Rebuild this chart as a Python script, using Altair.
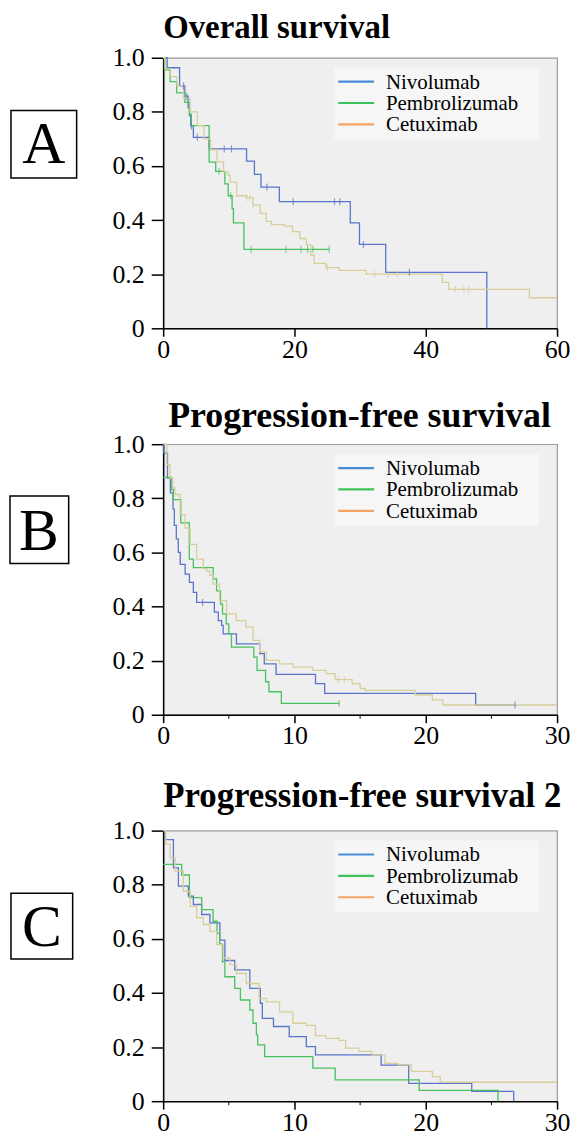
import altair as alt
import pandas as pd

SERIES = ["Nivolumab", "Pembrolizumab", "Cetuximab"]
CURVE_COLORS = ["#5b74cc", "#49c160", "#d7cf9b"]
LEGEND_COLORS = ["#4a8ad8", "#3cc45a", "#f2a366"]

PANEL_LABELS = ["A", "B", "C"]
PANEL_TITLES = ["Overall survival", "Progression-free survival", "Progression-free survival 2"]

Y_TICKS = [0, 0.2, 0.4, 0.6, 0.8, 1.0]
OS_X_TICKS = [0, 20, 40, 60]
PFS_X_TICKS = [0, 10, 20, 30]
PFS_MINOR_TICKS = [5, 15, 25]

# ---------------- Overall survival ----------------
os_nivo_t = [0, 0.6, 2.5, 3.3, 3.8, 4.0, 4.2, 4.6, 7.0, 12.7, 13.9, 14.9, 17.7, 28.5, 29.9, 33.9, 49.3]
os_nivo_s = [1.0, 0.963, 0.896, 0.858, 0.816, 0.786, 0.748, 0.706, 0.663, 0.618, 0.569, 0.522, 0.468, 0.390, 0.310, 0.207, 0.0]
os_nivo_end = 49.3
os_nivo_cens = [3.1, 3.6, 4.3, 5.2, 9.3, 10.4, 15.8, 19.8, 26.1, 26.9, 30.5, 37.5]

os_pemb_t = [0, 0.2, 1.05, 2.05, 3.3, 4.0, 4.3, 7.0, 8.0, 9.4, 9.9, 10.5, 10.7, 12.3]
os_pemb_s = [1.0, 0.955, 0.912, 0.870, 0.835, 0.792, 0.749, 0.614, 0.580, 0.534, 0.490, 0.442, 0.390, 0.292]
os_pemb_end = 25.3
os_pemb_cens = [8.5, 10.3, 13.4, 18.7, 21.0, 22.0, 22.8, 25.3]

os_cetu_t = [0, 0.3, 1.1, 2.1, 3.1, 4.1, 5.2, 6.2, 7.2, 8.2, 9.2, 9.9, 10.2, 11.2, 12.7, 13.7, 14.8, 15.7,
             16.5, 18.5, 19.7, 20.8, 21.8, 22.5, 23.0, 24.8, 26.8, 30.9, 42.5, 43.5, 55.8]
os_cetu_s = [1.0, 0.96, 0.93, 0.896, 0.85, 0.80, 0.75, 0.70, 0.66, 0.615, 0.577, 0.565, 0.54, 0.49, 0.483, 0.455,
             0.425, 0.395, 0.383, 0.378, 0.357, 0.332, 0.308, 0.27, 0.24, 0.224, 0.214, 0.2, 0.17, 0.144, 0.113]
os_cetu_end = 60
os_cetu_cens = [12.7, 13.2, 13.7, 25.0, 32.2, 34.2, 35.7, 44.5, 45.8, 46.5]

# ---------------- Progression-free survival ----------------
pfs_nivo_t = [0, 0.05, 0.33, 0.55, 0.75, 0.85, 1.0, 1.15, 1.3, 1.67, 2.0, 2.3, 2.55, 3.9, 4.2, 4.45, 4.57,
              5.58, 7.35, 7.7, 8.6, 11.6, 12.3, 23.8]
pfs_nivo_s = [1.0, 0.967, 0.875, 0.82, 0.76, 0.70, 0.65, 0.60, 0.556, 0.52, 0.489, 0.452, 0.415, 0.379, 0.348,
              0.33, 0.299, 0.262, 0.226, 0.188, 0.149, 0.115, 0.079, 0.036]
pfs_nivo_end = 26.8
pfs_nivo_cens = [3.0, 26.8]

pfs_pemb_t = [0, 0.66, 0.78, 1.34, 1.99, 2.3, 3.81, 4.07, 4.37, 4.52, 4.8, 5.0, 5.2, 6.9, 7.15, 7.8, 8.05, 9.0]
pfs_pemb_s = [0.877, 0.832, 0.795, 0.709, 0.575, 0.544, 0.502, 0.458, 0.409, 0.373, 0.336, 0.299, 0.25, 0.213,
              0.164, 0.122, 0.085, 0.042]
pfs_pemb_end = 13.4
pfs_pemb_cens = [13.4]

pfs_cetu_t = [0, 0.28, 0.53, 0.73, 0.91, 1.29, 1.67, 2.05, 2.55, 3.06, 3.31, 3.56, 3.8, 4.3, 4.83, 5.58, 6.3,
              6.84, 7.35, 7.85, 8.86, 9.9, 11.4, 12.4, 13.1, 14.4, 15.0, 15.4, 19.2, 20.5, 21.3]
pfs_cetu_s = [1.0, 0.924, 0.875, 0.838, 0.814, 0.74, 0.69, 0.63, 0.575, 0.54, 0.532, 0.515, 0.483, 0.422, 0.373,
              0.348, 0.324, 0.275, 0.232, 0.201, 0.188, 0.176, 0.164, 0.152, 0.13, 0.115, 0.097, 0.09, 0.073,
              0.055, 0.036]
pfs_cetu_end = 30
pfs_cetu_cens = [13.3, 13.8]

# ---------------- Progression-free survival 2 ----------------
pfs2_nivo_t = [0, 0.15, 0.78, 1.16, 1.92, 2.3, 2.93, 3.56, 4.32, 4.7, 5.45, 6.6, 7.4, 7.55, 8.4, 9.6, 10.9,
               11.6, 16.6, 18.7, 23.5, 26.7]
pfs2_nivo_s = [1.0, 0.967, 0.862, 0.795, 0.758, 0.727, 0.69, 0.659, 0.595, 0.52, 0.485, 0.417, 0.362, 0.306,
               0.276, 0.239, 0.202, 0.171, 0.133, 0.066, 0.036, 0.0]
pfs2_nivo_end = 26.7
pfs2_nivo_cens = []

pfs2_pemb_t = [0, 1.41, 2.0, 2.93, 3.8, 4.1, 4.3, 4.52, 4.7, 5.45, 5.88, 6.6, 6.84, 7.1, 7.2, 7.73, 11.4, 13.1,
               19.5, 25.5]
pfs2_pemb_s = [0.875, 0.836, 0.752, 0.708, 0.665, 0.62, 0.58, 0.515, 0.46, 0.417, 0.374, 0.337, 0.288, 0.245,
               0.208, 0.165, 0.122, 0.079, 0.04, 0.0]
pfs2_pemb_end = 25.5
pfs2_pemb_cens = []

pfs2_cetu_t = [0, 0.2, 0.53, 0.91, 1.54, 2.05, 2.55, 3.06, 3.56, 4.07, 4.57, 5.08, 5.58, 6.33, 7.3, 7.85, 8.86,
               9.87, 10.9, 11.6, 12.4, 13.4, 13.9, 14.9, 15.9, 16.9, 17.9, 18.9, 20.5, 21.1]
pfs2_cetu_s = [1.0, 0.95, 0.899, 0.85, 0.776, 0.72, 0.678, 0.653, 0.628, 0.579, 0.53, 0.505, 0.472, 0.435, 0.38,
               0.367, 0.33, 0.288, 0.28, 0.242, 0.232, 0.225, 0.196, 0.184, 0.171, 0.14, 0.134, 0.11, 0.091, 0.07]
pfs2_cetu_end = 30
pfs2_cetu_cens = []


def surv_at(ts, ss, c):
    val = ss[0]
    for t, s in zip(ts, ss):
        if t <= c:
            val = s
    return val


def build(curves):
    rows, crow = [], []
    for name, ts, ss, end, cens in curves:
        i = 0
        for t, s in zip(ts, ss):
            rows.append({"series": name, "t": t, "s": s, "i": i})
            i += 1
        if end > ts[-1]:
            rows.append({"series": name, "t": end, "s": ss[-1], "i": i})
        for c in cens:
            crow.append({"series": name, "t": c, "s": surv_at(ts, ss, c)})
    cdf = pd.DataFrame(crow) if crow else pd.DataFrame({"series": [], "t": [], "s": []})
    return pd.DataFrame(rows), cdf


def make_panel(k, curves, xmax, xticks, minor, box, letter_xy, title_size, title_dx, title_offset):
    W, H = 396, 272
    df, cdf = build(curves)
    xs = alt.Scale(domain=[0, xmax], nice=False)
    ys = alt.Scale(domain=[0, 1], nice=False)
    x_axis = alt.Axis(values=xticks, title=None, tickSize=8, labelPadding=0, labelFlush=False,
                      labelOverlap=False, format="d")
    y_axis = alt.Axis(values=Y_TICKS, title=None, tickSize=12, labelPadding=7, labelOverlap=False,
                      labelExpr="datum.value == 0 ? '0' : format(datum.value, '.1f')")
    sc = alt.Scale(domain=SERIES, range=CURVE_COLORS)

    one = pd.DataFrame({"label": [PANEL_LABELS[k]]})
    layers = []
    layers.append(alt.Chart(one).mark_rect(fill="#f6f6f6").encode(
        x=alt.value(172), x2=alt.value(378), y=alt.value(10), y2=alt.value(82)))
    layers.append(alt.Chart(df).mark_line(interpolate="step-after", strokeWidth=1.3).encode(
        x=alt.X("t:Q", scale=xs, axis=x_axis),
        y=alt.Y("s:Q", scale=ys, axis=y_axis),
        stroke=alt.Stroke("series:N", scale=sc, legend=None),
        order=alt.Order("i:Q")))
    if len(cdf):
        layers.append(alt.Chart(cdf).mark_tick(orient="vertical", size=7, thickness=1.2).encode(
            x="t:Q", y="s:Q", color=alt.Color("series:N", scale=sc, legend=None)))
    if minor:
        layers.append(alt.Chart(pd.DataFrame({"t": minor})).mark_rule(color="black", strokeWidth=1).encode(
            x="t:Q", y=alt.value(H), y2=alt.value(H + 4)))
    # legend
    for i, name in enumerate(SERIES):
        yy = 24 + 21.5 * i
        ld = pd.DataFrame({"name": [name]})
        layers.append(alt.Chart(ld).mark_rule(color=LEGEND_COLORS[i], strokeWidth=2.2).encode(
            x=alt.value(176), x2=alt.value(212), y=alt.value(yy)))
        layers.append(alt.Chart(ld).mark_text(align="left", baseline="middle", font="Liberation Serif",
                                              fontSize=21, color="black").encode(
            x=alt.value(224), y=alt.value(yy + 1), text="name:N"))
    # panel label box
    layers.append(alt.Chart(one).mark_rect(fill="white", stroke="black", strokeWidth=1.5).encode(
        x=alt.value(box[0]), x2=alt.value(box[1]), y=alt.value(box[2]), y2=alt.value(box[3])))
    layers.append(alt.Chart(one).mark_text(align="center", baseline="alphabetic", font="Liberation Serif",
                                           fontSize=60, color="black").encode(
        x=alt.value(letter_xy[0]), y=alt.value(letter_xy[1]), text="label:N"))

    return alt.layer(*layers).properties(
        width=W, height=H,
        title=alt.TitleParams(PANEL_TITLES[k], anchor="start", frame="group", font="Liberation Serif",
                              fontSize=title_size, fontWeight="bold", color="black", dx=title_dx,
                              offset=title_offset))


panel_a = make_panel(0, [
    (SERIES[0], os_nivo_t, os_nivo_s, os_nivo_end, os_nivo_cens),
    (SERIES[1], os_pemb_t, os_pemb_s, os_pemb_end, os_pemb_cens),
    (SERIES[2], os_cetu_t, os_cetu_s, os_cetu_end, os_cetu_cens),
], 60, OS_X_TICKS, None, (-153, -87, 53, 121), (-120, 106), 33, 0, 0)

panel_b = make_panel(1, [
    (SERIES[0], pfs_nivo_t, pfs_nivo_s, pfs_nivo_end, pfs_nivo_cens),
    (SERIES[1], pfs_pemb_t, pfs_pemb_s, pfs_pemb_end, pfs_pemb_cens),
    (SERIES[2], pfs_cetu_t, pfs_cetu_s, pfs_cetu_end, pfs_cetu_cens),
], 30, PFS_X_TICKS, PFS_MINOR_TICKS, (-154, -95, 52, 120), (-125, 106), 36, 5, -4)

panel_c = make_panel(2, [
    (SERIES[0], pfs2_nivo_t, pfs2_nivo_s, pfs2_nivo_end, pfs2_nivo_cens),
    (SERIES[1], pfs2_pemb_t, pfs2_pemb_s, pfs2_pemb_end, pfs2_pemb_cens),
    (SERIES[2], pfs2_cetu_t, pfs2_cetu_s, pfs2_cetu_end, pfs2_cetu_cens),
], 30, PFS_X_TICKS, PFS_MINOR_TICKS, (-153, -91, 63, 129), (-122, 116), 35, 0, 4)

chart = alt.vconcat(panel_a, panel_b, panel_c, spacing=116.5, bounds="flush").properties(
    padding={"left": 0, "top": 0, "right": 0, "bottom": 0}
).configure_view(
    fill="#efefef", stroke="#9b9b9b", strokeWidth=1.2
).configure_axis(
    labelFont="Liberation Serif", labelFontSize=26, labelColor="black",
    domainColor="black", tickColor="black", domainWidth=1.5, tickWidth=1.5, grid=False
)

chart.save("out.html", embed_options={"renderer": "svg", "actions": False})
